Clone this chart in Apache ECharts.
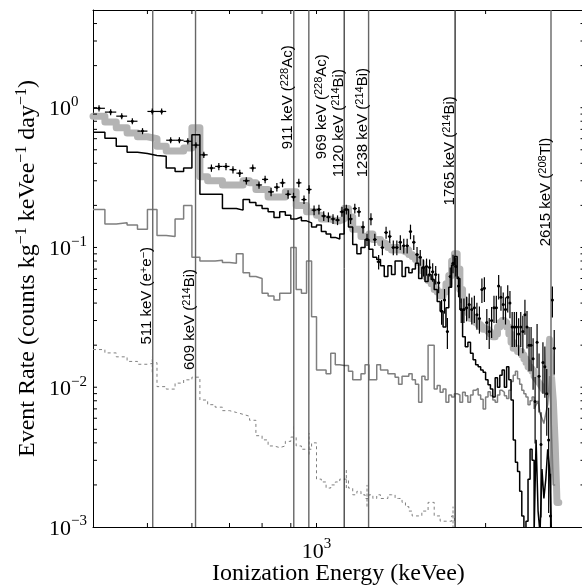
<!DOCTYPE html>
<html><head><meta charset="utf-8">
<script src="https://cdn.jsdelivr.net/npm/echarts@6/dist/echarts.min.js"></script>
<style>html,body{margin:0;padding:0;background:#fff}#c{width:582px;height:588px}</style>
</head><body><div id="c"></div>
<script>
// ---- bin edges (keVee) of the simulated histograms ----
const simE = [400,420,440,460,480,500,520,540,560,580,600,620,640,660,680,700,720,740,760,780,
800,820,840,860,880,900,920,940,960,980,1000,1020,1040,1060,1080,1100,1120,1140,1160,1180,
1200,1220,1240,1260,1280,1300,1320,1340,1360,1380,1400,1420,1440,1460,1480,1500,1520,1540,1560,1580,
1600,1620,1640,1660,1680,1700,1720,1740,1760,1780,1800,1820,1840,1860,1880,1900,1920,1940,1960,1980,
2000,2020,2040,2060,2080,2100,2120,2140,2160,2180,2200,2220,2240,2260,2280,2300,2320,2340,2360,2380,
2400,2420,2440,2460,2480,2500,2520,2540,2560,2580,2600,2620,2640,2660,2680,2700];

// black thin histogram
const blackSim = [0.667,0.604,0.53,0.48,0.47,0.455,0.45,0.37,0.35,0.37,
0.64,0.24,0.24,0.24,0.19,0.19,0.185,0.22,0.21,0.20,
0.19,0.18,0.164,0.18,0.17,0.16,0.165,0.155,0.15,0.14,
0.145,0.13,0.125,0.118,0.115,0.125,0.187,0.14,0.105,0.09,
0.1,0.114,0.097,0.085,0.082,0.074,0.062,0.074,0.064,0.08,
0.08,0.062,0.072,0.066,0.07,0.077,0.06,0.072,0.057,0.064,
0.059,0.05,0.041,0.035,0.027,0.037,0.052,0.075,0.086,0.06,
0.036,0.023,0.0195,0.021,0.0175,0.0157,0.0145,0.014,0.0133,0.0128,
0.0113,0.0104,0.0097,0.0085,0.0117,0.01,0.0122,0.0133,0.01,0.014,
0.0113,0.0081,0.0042,0.0029,0.0025,0.0018,0.0012,0.0009,0.0011,0.0022,
0.0036,0.003,0.0009,0.0042,0.0013,0.0009,0.0026,0.0016,0.0022,0.0036,
0.0026,0.0009];

// thick light-grey histogram
const graySim = [0.87,0.79,0.72,0.66,0.62,0.60,0.53,0.49,0.49,0.515,
0.72,0.32,0.30,0.30,0.28,0.28,0.28,0.30,0.29,0.26,
0.26,0.23,0.23,0.23,0.25,0.25,0.20,0.20,0.18,0.18,
0.17,0.16,0.16,0.155,0.155,0.16,0.19,0.165,0.135,0.135,
0.12,0.12,0.125,0.114,0.114,0.108,0.105,0.10,0.096,0.10,
0.096,0.093,0.096,0.089,0.086,0.082,0.078,0.068,0.062,0.058,
0.055,0.05,0.048,0.045,0.048,0.055,0.063,0.08,0.09,0.07,
0.05,0.042,0.037,0.034,0.031,0.030,0.029,0.028,0.027,0.026,
0.026,0.025,0.024,0.023,0.024,0.027,0.029,0.030,0.029,0.027,
0.024,0.021,0.019,0.019,0.018,0.018,0.017,0.016,0.015,0.014,
0.0135,0.013,0.012,0.0115,0.011,0.0105,0.010,0.0095,0.0095,0.012,
0.022,0.012,0.008,0.004,0.0015];

// medium-grey histogram
const bgSim = [0.187,0.147,0.15,0.145,0.135,0.187,0.122,0.12,0.16,0.20,
0.085,0.08,0.08,0.081,0.078,0.077,0.09,0.066,0.062,0.06,
0.047,0.045,0.042,0.047,0.047,0.10,0.05,0.047,0.08,0.032,
0.0133,0.0133,0.0125,0.0175,0.0145,0.0143,0.0143,0.013,0.0113,0.0113,
0.0125,0.0145,0.0113,0.0113,0.0145,0.0133,0.0133,0.0125,0.0125,0.0118,
0.0105,0.012,0.012,0.0125,0.0113,0.0105,0.0078,0.012,0.0113,0.02,
0.02,0.0097,0.0103,0.0092,0.0097,0.0078,0.0088,0.0085,0.009,0.0088,
0.0078,0.0092,0.0087,0.0078,0.0088,0.0095,0.0098,0.0088,0.0082,0.007,
0.0085,0.0093,0.0087,0.0081,0.0078,0.0088,0.0095,0.0092,0.0087,0.0083,
0.0095,0.011,0.0122,0.013,0.0115,0.0105,0.0095,0.009,0.0085,0.0075,
0.008,0.0085,0.007,0.0075,0.008,0.0065,0.006,0.0055,0.0065,0.0075,
0.012,0.005,0.002];

// dashed grey histogram
const dashSim = [0.0186,0.0176,0.0165,0.0153,0.0146,0.0150,0.0101,0.0097,0.0107,0.0113,
0.0118,0.0081,0.0075,0.0072,0.0068,0.0066,0.0064,0.0062,0.0058,0.0045,
0.0042,0.0038,0.0037,0.0038,0.0041,0.0044,0.0038,0.0036,0.0036,0.0040,
0.0022,0.0021,0.0019,0.0020,0.0021,0.0022,0.0022,0.0019,0.0017,0.0018,
0.0017,0.0016,0.0017,0.0016,0.0017,0.0016,0.0016,0.0017,0.0017,0.0016,
0.0016,0.0015,0.0014,0.0013,0.0012,0.0012,0.0012,0.0013,0.0013,0.0015,
0.0015,0.0012,0.0012,0.0011,0.0011,0.0011,0.0011,0.0012,0.0011];
const dashErrE = [510,910,970,1130,1230,1750];
const dashErrLo = [0.0128,0.0039,0.0033,0.0019,0.0014,0.0009];
const dashErrHi = [0.0165,0.0053,0.0047,0.0026,0.0020,0.0014];

// measured data (bin centres, rate, relative error); bins are 20 keV wide
const dataE = [410,430,450,470,490,510,530,550,570,590,610,630,650,670,690,710,730,750,770,790,
810,830,850,870,890,910,930,950,970,990,1010,1030,1050,1070,1090,1110,1130,1150,1170,1190,
1210,1230,1250,1270,1290,1310,1330,1350,1370,1390,1410,1430,1450,1470,1490,1510,1530,1550,1570,1590,
1610,1630,1650,1670,1690,1710,1730,1750,1770,1790,1810,1830,1850,1870,1890,1910,1930,1950,1970,1990,
2010,2030,2050,2070,2090,2110,2130,2150,2170,2190,2210,2230,2250,2270,2290,2310,2330,2350,2370,2390,
2410,2430,2450,2470,2490,2510,2530,2550,2570,2590,2610,2630,2650];
const dataV = [0.99,0.93,0.87,0.80,0.68,0.94,0.94,0.585,0.585,0.575,
0.54,0.46,0.37,0.38,0.38,0.36,0.34,0.30,0.37,0.28,
0.307,0.25,0.27,0.29,0.24,0.23,0.29,0.22,0.26,0.185,
0.187,0.168,0.165,0.16,0.157,0.18,0.187,0.16,0.19,0.18,
0.14,0.114,0.16,0.114,0.079,0.10,0.128,0.12,0.10,0.10,
0.109,0.103,0.103,0.13,0.109,0.089,0.085,0.072,0.073,0.072,
0.067,0.064,0.056,0.035,0.042,0.025,0.062,0.077,0.073,0.053,
0.036,0.036,0.037,0.039,0.036,0.037,0.033,0.031,0.05,0.051,
0.029,0.025,0.03,0.037,0.037,0.053,0.044,0.039,0.036,0.044,
0.04,0.027,0.027,0.027,0.024,0.027,0.025,0.033,0.027,0.02,
0.02,0.016,0.0079,0.021,0.012,0.0039,0.015,0.014,0.009,0.0042,
0.0012,0.042,0.019];
const dataErr = [0.05,0.05,0.05,0.05,0.05,0.05,0.05,0.05,0.05,0.05,
0.05,0.05,0.06,0.06,0.06,0.06,0.06,0.06,0.06,0.06,
0.06,0.07,0.07,0.07,0.07,0.07,0.07,0.07,0.07,0.08,
0.08,0.08,0.08,0.08,0.08,0.08,0.08,0.08,0.08,0.08,
0.1,0.1,0.1,0.1,0.12,0.12,0.1,0.1,0.12,0.12,
0.12,0.12,0.12,0.12,0.12,0.13,0.13,0.14,0.14,0.14,
0.15,0.15,0.16,0.2,0.2,0.25,0.16,0.15,0.15,0.17,
0.2,0.2,0.2,0.2,0.22,0.22,0.22,0.22,0.2,0.2,
0.25,0.25,0.25,0.22,0.22,0.2,0.2,0.22,0.22,0.22,
0.22,0.28,0.28,0.28,0.3,0.28,0.3,0.28,0.3,0.35,
0.35,0.4,0.5,0.35,0.45,0.7,0.4,0.4,0.5,0.7,
1.0,0.25,0.35];
const binHalf = 10;

// gamma lines and their labels
const lineE = [511,609,911,969,1120,1238,1765,2615];
const lineText = ['511 keV (e{s|+}e{s|\u2212})','609 keV ({s|214}Bi)','911 keV ({s|228}Ac)','969 keV ({s|228}Ac)',
  '1120 keV ({s|214}Bi)','1238 keV ({s|214}Bi)','1765 keV ({s|214}Bi)','2615 keV ({s|208}Tl)'];
const labelE = [511,609,911,1045,1120,1238,1765,2615];
const labelV = [0.0202,0.0133,0.504,0.428,0.318,0.318,0.2,0.102];
const lineColor = ['#666','#666','#666','#666','#000','#666','#333','#666'];

// axis ticks and decade labels
const xTicks = [500,600,700,800,900,1000,2000];
const yTicks = [0.002,0.003,0.004,0.005,0.006,0.007,0.008,0.009,0.01,
  0.02,0.03,0.04,0.05,0.06,0.07,0.08,0.09,0.1,0.2,0.3,0.4,0.5,0.6,0.7,0.8,0.9,1,2,3,4];
const yLabelVals = [0.001,0.01,0.1,1];

const SERIF = "'Liberation Serif','Times New Roman',serif";
const SANS = "'Liberation Sans',Arial,sans-serif";

function stepData(vals){
  const d = vals.map((v,i)=>[simE[i], v]);
  d.push([simE[vals.length], vals[vals.length-1]]);
  return d;
}
function powLabel(v){
  const l = Math.log10(v), r = Math.round(l);
  if (Math.abs(l - r) > 1e-6) return '';
  return '{b|10}{s|' + (r < 0 ? '\u2212' + (-r) : r) + '}';
}
const tickRich = {
  b:{fontFamily:SERIF,fontSize:22,color:'#000',lineHeight:26,verticalAlign:'bottom'},
  s:{fontFamily:SERIF,fontSize:15,color:'#000',lineHeight:15,verticalAlign:'top'}
};
const tickRichZr = {
  b:{fontFamily:SERIF,fontSize:22,fill:'#000',lineHeight:26,verticalAlign:'bottom'},
  s:{fontFamily:SERIF,fontSize:15,fill:'#000',lineHeight:15,verticalAlign:'top'}
};
const nameRich = {s:{fontFamily:SERIF,fontSize:16,color:'#000',lineHeight:16,verticalAlign:'top'}};

const chart = echarts.init(document.getElementById('c'));
chart.setOption({
  animation:false,
  backgroundColor:'#fff',
  title:{text:'Ionization Energy (keVee)',left:212,top:562,padding:0,
    textStyle:{fontFamily:SERIF,fontSize:24,fontWeight:'normal',color:'#000',lineHeight:24}},
  grid:{left:93,top:10,right:-2.5,bottom:61,containLabel:false,outerBoundsMode:'none'},
  xAxis:[
    {type:'log',min:400,max:3000,logBase:10,
     axisLine:{lineStyle:{color:'#000',width:1}},axisTick:{show:false},splitLine:{show:false},
     axisLabel:{interval:0,margin:10,formatter:powLabel,rich:tickRich}},
    {type:'log',min:400,max:3000,position:'top',
     axisLine:{lineStyle:{color:'#000',width:1}},axisTick:{show:false},splitLine:{show:false},axisLabel:{show:false}}
  ],
  yAxis:[
    {type:'log',min:0.001,max:5,logBase:10,
     axisLine:{lineStyle:{color:'#000',width:1}},axisTick:{show:false},splitLine:{show:false},
     axisLabel:{show:false},
     name:'Event Rate (counts kg{s|\u22121} keVee{s|\u22121} day{s|\u22121})',
     nameLocation:'middle',nameGap:51,nameRotate:90,
     nameTextStyle:{fontFamily:SERIF,fontSize:24,color:'#000',lineHeight:28,verticalAlign:'bottom',rich:nameRich}},
    {type:'log',min:0.001,max:5,position:'right',
     axisLine:{lineStyle:{color:'#000',width:1}},axisTick:{show:false},splitLine:{show:false},axisLabel:{show:false}}
  ],
  series:[
    {type:'line',name:'sim total',data:stepData(graySim),step:'end',symbol:'none',silent:true,z:1,
     lineStyle:{color:'#b4b4b4',width:7,join:'round',cap:'round'}},
    {type:'line',name:'background',data:stepData(bgSim),step:'end',symbol:'none',silent:true,z:2,
     lineStyle:{color:'#7f7f7f',width:1.5}},
    {type:'line',name:'dashed',data:stepData(dashSim),step:'end',symbol:'none',silent:true,z:2,
     lineStyle:{color:'#808080',width:1,type:[3,3]}},
    {type:'custom',name:'dash err',silent:true,z:2,clip:true,
     data:dashErrE.map((e,i)=>[e,dashErrLo[i],dashErrHi[i]]),
     renderItem:function(params,api){
       const e=api.value(0);
       const p1=api.coord([e,api.value(1)]), p2=api.coord([e,api.value(2)]);
       return {type:'line',shape:{x1:p1[0],y1:p1[1],x2:p2[0],y2:p2[1]},
         style:{stroke:'#808080',lineWidth:1,lineDash:[3,2]}};
     }},
    {type:'custom',name:'gamma lines',silent:true,z:3,
     data:lineE.map((e,i)=>[e,labelE[i],labelV[i]]),
     renderItem:function(params,api){
       const cs=params.coordSys, i=params.dataIndex;
       const x=api.coord([api.value(0),1])[0];
       const a=api.coord([api.value(1),api.value(2)]);
       return {type:'group',children:[
         {type:'line',shape:{x1:x,y1:cs.y,x2:x,y2:cs.y+cs.height},
          style:{stroke:lineColor[i],lineWidth:lineColor[i]==='#000'?1:1.4}},
         {type:'text',x:a[0]+3,y:a[1],rotation:Math.PI/2,
          style:{text:lineText[i],fontFamily:SANS,fontSize:15,fill:'#000',lineHeight:17,
            align:'left',verticalAlign:'bottom',
            rich:{s:{fontFamily:SANS,fontSize:11,fill:'#000',lineHeight:11,verticalAlign:'top'}}}}
       ]};
     }},
    {type:'line',name:'sim black',data:stepData(blackSim),step:'end',symbol:'none',silent:true,z:4,
     lineStyle:{color:'#000',width:1.5}},
    {type:'custom',name:'data',silent:true,z:5,clip:true,
     data:dataE.map((e,i)=>[e,dataV[i],dataErr[i]]),
     renderItem:function(params,api){
       const e=api.value(0), v=api.value(1), r=api.value(2);
       const c=api.coord([e,v]);
       const xl=api.coord([e-binHalf,v])[0], xr=api.coord([e+binHalf,v])[0];
       const yt=api.coord([e,v*(1+r)])[1];
       const yb=api.coord([e,Math.max(v*(1-r),1e-5)])[1];
       return {type:'group',children:[
         {type:'line',shape:{x1:xl,y1:c[1],x2:xr,y2:c[1]},style:{stroke:'#000',lineWidth:1.2}},
         {type:'line',shape:{x1:c[0],y1:yt,x2:c[0],y2:yb},style:{stroke:'#000',lineWidth:1.2}},
         {type:'circle',shape:{cx:c[0],cy:c[1],r:1.5},style:{fill:'#000'}}
       ]};
     }},
    {type:'custom',name:'xticks',silent:true,z:6,
     data:xTicks.map(v=>[v,1]),
     renderItem:function(params,api){
       const cs=params.coordSys, x=api.coord([api.value(0),1])[0];
       return {type:'group',children:[
         {type:'line',shape:{x1:x,y1:cs.y+cs.height,x2:x,y2:cs.y+cs.height-4},style:{stroke:'#000',lineWidth:1}},
         {type:'line',shape:{x1:x,y1:cs.y,x2:x,y2:cs.y+4},style:{stroke:'#000',lineWidth:1}}
       ]};
     }},
    {type:'custom',name:'yticks',silent:true,z:6,
     data:yTicks.map(v=>[1000,v]),
     renderItem:function(params,api){
       const cs=params.coordSys, y=api.coord([1000,api.value(1)])[1];
       return {type:'group',children:[
         {type:'line',shape:{x1:cs.x,y1:y,x2:cs.x+4,y2:y},style:{stroke:'#000',lineWidth:1}},
         {type:'line',shape:{x1:cs.x+cs.width,y1:y,x2:cs.x+cs.width-4,y2:y},style:{stroke:'#000',lineWidth:1}}
       ]};
     }},
    {type:'custom',name:'ylabels',silent:true,z:6,
     data:yLabelVals.map(v=>[1000,v]),
     renderItem:function(params,api){
       const cs=params.coordSys, v=api.value(1), y=api.coord([1000,v])[1];
       return {type:'text',x:cs.x-44,y:y,
         style:{text:powLabel(v),align:'left',verticalAlign:'middle',fill:'#000',
           fontFamily:SERIF,fontSize:22,rich:tickRichZr}};
     }}
  ]
});
</script>
</body></html>
